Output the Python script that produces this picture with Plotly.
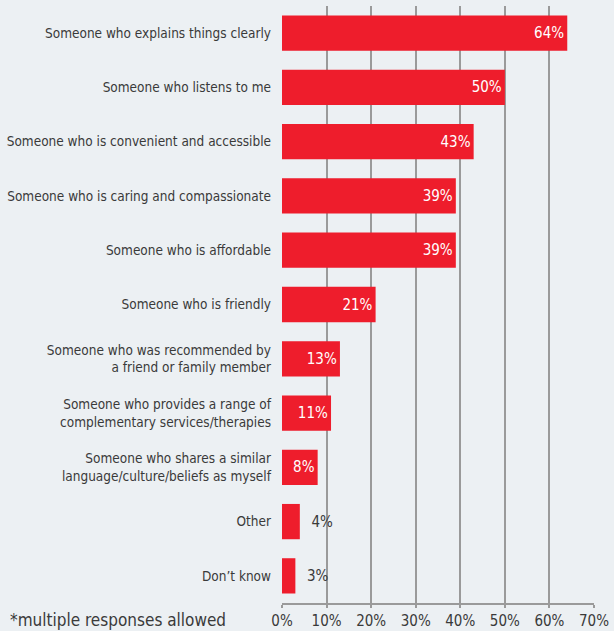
import plotly.graph_objects as go

categories = [
    "Someone who explains things clearly",
    "Someone who listens to me",
    "Someone who is convenient and accessible",
    "Someone who is caring and compassionate",
    "Someone who is affordable",
    "Someone who is friendly",
    "Someone who was recommended by<br>a friend or family member",
    "Someone who provides a range of<br>complementary services/therapies",
    "Someone who shares a similar<br>language/culture/beliefs as myself",
    "Other",
    "Don\u2019t know",
]
values = [64, 50, 43, 39, 39, 21, 13, 11, 8, 4, 3]
tick_vals = [0, 10, 20, 30, 40, 50, 60, 70]
tick_text = ["0%", "10%", "20%", "30%", "40%", "50%", "60%", "70%"]
footnote = "*multiple responses allowed"

BAR = "#EE1D2C"
BG = "#ECF0F3"
TXT = "#3a3a3a"
GRID = "#9a9a9a"
FONT = "DejaVu Sans Condensed, sans-serif"

LEFT, RIGHT, TOP, BOTTOM = 282, 20, 6, 28
PLOT_W = 614 - LEFT - RIGHT

# short bars carry their label outside the bar
positions = ["inside" if v >= 8 else "outside" for v in values]
labels = [f"{v}%" if v >= 8 else f"\u00a0\u00a0{v}%" for v in values]

fig = go.Figure(
    go.Bar(
        y=categories,
        x=values,
        orientation="h",
        marker=dict(color=BAR, line=dict(width=0)),
        text=labels,
        textposition=positions,
        insidetextanchor="end",
        insidetextfont=dict(color="white", size=15, family=FONT),
        outsidetextfont=dict(color=TXT, size=15, family=FONT),
        cliponaxis=False,
        hoverinfo="skip",
    )
)

fig.update_layout(
    width=614,
    height=631,
    margin=dict(l=LEFT, r=RIGHT, t=TOP, b=BOTTOM),
    paper_bgcolor=BG,
    plot_bgcolor=BG,
    bargap=0.35,
    showlegend=False,
    uniformtext=dict(minsize=15, mode="show"),
    font=dict(family=FONT, color=TXT),
    xaxis=dict(
        range=[0, 70],
        tickvals=tick_vals,
        ticktext=tick_text,
        showgrid=True,
        gridcolor=GRID,
        gridwidth=1.5,
        zeroline=False,
        showline=True,
        linecolor=GRID,
        linewidth=1.5,
        ticks="outside",
        ticklen=3,
        tickcolor=GRID,
        tickwidth=1.5,
        ticklabelstandoff=0,
        tickfont=dict(size=15, color=TXT, family=FONT),
        automargin=False,
        fixedrange=True,
    ),
    yaxis=dict(
        autorange="reversed",
        showgrid=False,
        showline=False,
        zeroline=False,
        ticks="",
        ticklabelstandoff=10,
        tickfont=dict(size=13.5, color=TXT, family=FONT),
        automargin=False,
        fixedrange=True,
    ),
    annotations=[
        dict(
            text=footnote,
            # footnote sits in the bottom-left corner, outside the plot area
            x=(8 - LEFT) / PLOT_W,
            y=-0.0285,
            xref="paper",
            yref="paper",
            xanchor="left",
            yanchor="middle",
            showarrow=False,
            font=dict(size=17, color=TXT, family=FONT),
        )
    ],
)

fig.write_html("out.html")
